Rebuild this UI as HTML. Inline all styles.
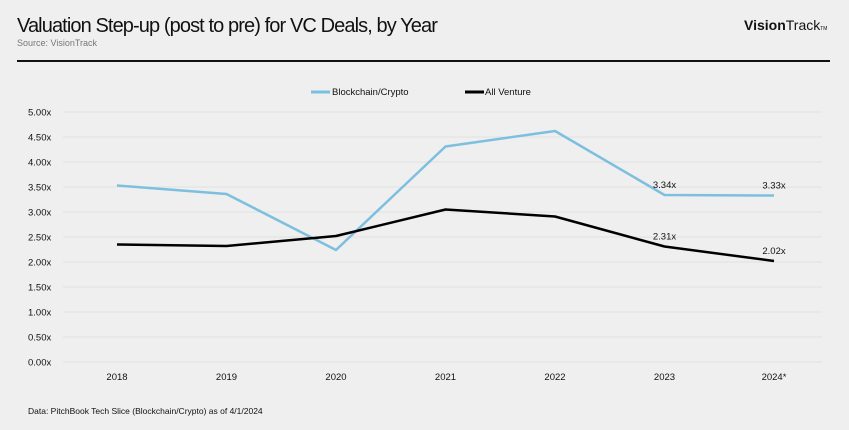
<!DOCTYPE html>
<html><head><meta charset="utf-8"><style>
body{margin:0;background:#efefef;font-family:"Liberation Sans",sans-serif;}
#wrap{position:relative;width:849px;height:430px;background:#efefef;overflow:hidden}
.t{position:absolute;white-space:nowrap}
</style></head><body>
<div id="wrap">
<div class="t" style="left:17px;top:15px;font-size:20px;letter-spacing:-0.9px;color:#111">Valuation Step-up (post to pre) for VC Deals, by Year</div>
<div class="t" style="left:17px;top:38px;font-size:9px;color:#777">Source: VisionTrack</div>
<div class="t" style="left:744px;top:17px;font-size:14px;color:#111"><b>Vision</b>Track<span style="font-size:5px">TM</span></div>
<div style="position:absolute;left:17px;top:60px;width:813px;height:2px;background:#111"></div>
<div class="t" style="left:28px;top:406px;font-size:8.5px;color:#111">Data: PitchBook Tech Slice (Blockchain/Crypto) as of 4/1/2024</div>
<svg id="chart" width="849" height="430" style="position:absolute;left:0;top:0"></svg>
</div>
<script>
const categories=["2018","2019","2020","2021","2022","2023","2024*"];
const cryptoValues=[3.53,3.36,2.24,4.31,4.62,3.34,3.33];
const ventureValues=[2.35,2.32,2.52,3.05,2.91,2.31,2.02];
const yTicks=[0,0.5,1,1.5,2,2.5,3,3.5,4,4.5,5];
const labelIdx=[5,6];
const svg=document.getElementById('chart');
const NS='http://www.w3.org/2000/svg';
const x0=117,dx=109.5,yBase=362,yTop=112,yMax=5;
const xs=i=>x0+i*dx;
const ys=v=>yBase-(v/yMax)*(yBase-yTop);
function mk(tag,attrs,txt){const e=document.createElementNS(NS,tag);for(const k in attrs)e.setAttribute(k,attrs[k]);if(txt!=null)e.textContent=txt;svg.appendChild(e);return e;}
yTicks.forEach(v=>{
 const g=mk('line',{x1:63,x2:822,y1:ys(v),y2:ys(v),stroke:'#e2e2e2','stroke-width':1});
 
 
 const t=mk('text',{x:28,y:ys(v)+3.5,'font-size':9.5,fill:'#111','font-family':'Liberation Sans'},v.toFixed(2)+'x');
 
 
});
categories.forEach((c,i)=>{
 const t=mk('text',{x:xs(i),y:380,'font-size':9.5,fill:'#111','text-anchor':'middle','font-family':'Liberation Sans'},c);
 
 
});
function series(vals,color,name){
 const p=mk('polyline',{points:vals.map((v,i)=>xs(i)+','+ys(v)).join(' '),fill:'none',stroke:color,'stroke-width':2.5,'stroke-linejoin':'round'});
 
 
}
series(cryptoValues,'#7dbfdf','series-blockchain-crypto');
series(ventureValues,'#000','series-all-venture');
labelIdx.forEach(i=>{
 const a=mk('text',{x:xs(i),y:ys(cryptoValues[i])-7,'font-size':9.5,fill:'#111','text-anchor':'middle','font-family':'Liberation Sans'},cryptoValues[i].toFixed(2)+'x');
 
 
 const b=mk('text',{x:xs(i),y:ys(ventureValues[i])-7,'font-size':9.5,fill:'#111','text-anchor':'middle','font-family':'Liberation Sans'},ventureValues[i].toFixed(2)+'x');
 
 
});
const l1=mk('line',{x1:311,x2:330,y1:92,y2:92,stroke:'#7dbfdf','stroke-width':3});


const lt1=mk('text',{x:332,y:95,'font-size':9.5,fill:'#111','font-family':'Liberation Sans'},'Blockchain/Crypto');


const l2=mk('line',{x1:465,x2:484,y1:92,y2:92,stroke:'#000','stroke-width':3});


const lt2=mk('text',{x:485,y:95,'font-size':9.5,fill:'#111','font-family':'Liberation Sans'},'All Venture');


</script>
</body></html>
